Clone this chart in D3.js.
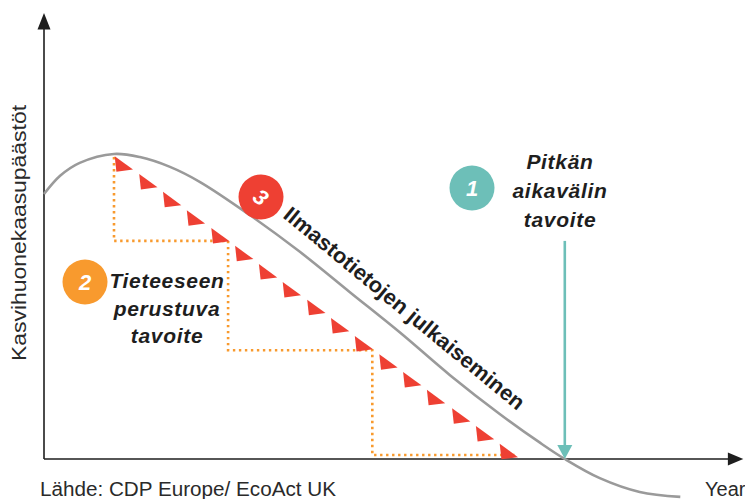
<!DOCTYPE html>
<html><head><meta charset="utf-8">
<script src="https://cdn.jsdelivr.net/npm/d3@7"></script>
<style>
html,body{margin:0;padding:0;background:#fff;}
svg{display:block;}
text{font-family:"Liberation Sans",Arial,sans-serif;}
</style></head>
<body>
<svg id="chart" width="745" height="499"></svg>
<script>
// ---- data (abstract time index 0..100, emissions index 0..100) ----
const curveTime      = [0, 2.3, 5.1, 10, 13.7, 18, 22.3, 29.4, 36.6, 43.7, 50.9, 58, 65.1, 70.9, 74.4, 79.4, 85.1, 90.9];
const curveEmissions = [59.4, 63.5, 66.4, 68.4, 67.7, 65.5, 62.1, 54.7, 46.4, 37.4, 28.3, 18.8, 10.1, 3.6, 0, -4.3, -7.4, -8.5];

const disclosureTime      = [10.1, 13.6, 17.0, 20.4, 23.9, 27.3, 30.7, 34.1, 37.6, 41.0, 44.4, 47.9, 51.3, 54.7, 58.3, 61.7, 65.1];
const disclosureEmissions = [67.9, 63.9, 59.9, 55.8, 51.8, 47.8, 43.7, 39.7, 35.7, 31.6, 27.6, 23.5, 19.5, 15.5, 11.4, 7.4, 3.4];

const stepTime      = [10, 10, 26.3, 26.3, 46.9, 46.9, 67.7];
const stepEmissions = [67.7, 48.9, 48.9, 24.4, 24.4, 0.9, 0.9];

const longTermTime = 74.4;
const longTermFrom = 48.9;

const labels = {
  yAxis: "Kasvihuonekaasupäästöt",
  xAxis: "Year",
  source: "Lähde: CDP Europe/ EcoAct UK",
  goal1: ["Pitkän", "aikavälin", "tavoite"],
  goal2: ["Tieteeseen", "perustuva", "tavoite"],
  goal3: "Ilmastotietojen julkaiseminen"
};

// ---- drawing ----
const svg = d3.select("#chart");
const x = d3.scaleLinear().domain([0, 100]).range([44, 744]);
const y = d3.scaleLinear().domain([0, 100]).range([459, 13]);

const RED = "#ee4033", TEAL = "#6dbfb8", ORANGE = "#f89a2e", GRAY = "#9a9a9a", INK = "#1e1e1e";

// axes
svg.append("line").attr("x1", x(0)).attr("y1", y(0)).attr("x2", x(0)).attr("y2", y(96.5))
  .attr("stroke", INK).attr("stroke-width", 1.6);
svg.append("path").attr("d", `M${x(0)},${y(100)} L${x(0)-6.5},${y(96.3)} L${x(0)+6.5},${y(96.3)} Z`).attr("fill", INK);
svg.append("line").attr("x1", x(0)).attr("y1", y(0)).attr("x2", x(97.8)).attr("y2", y(0))
  .attr("stroke", INK).attr("stroke-width", 1.6);
svg.append("path").attr("d", `M${x(99.9)},${y(0)} L${x(97.7)},${y(0)-6.5} L${x(97.7)},${y(0)+6.5} Z`).attr("fill", INK);

// dotted steps
const pts = stepTime.map((t, i) => [x(t), y(stepEmissions[i])]);
svg.append("path").attr("d", d3.line()(pts)).attr("fill", "none")
  .attr("stroke", ORANGE).attr("stroke-width", 2.6).attr("stroke-dasharray", "2.4,3.6");

// curve
const cpts = curveTime.map((t, i) => [x(t), y(curveEmissions[i])]);
svg.append("path").attr("d", d3.line().curve(d3.curveCatmullRom.alpha(0.5))(cpts))
  .attr("fill", "none").attr("stroke", GRAY).attr("stroke-width", 2.6);

// disclosure triangles
svg.append("g").selectAll("path").data(disclosureTime).join("path")
  .attr("d", (t, i) => {
    const px = x(t), py = y(disclosureEmissions[i]);
    return `M${px},${py} L${px+1.7},${py+15.5} L${px+18.3},${py+13.3} Z`;
  })
  .attr("fill", RED);

// long-term target arrow
svg.append("line").attr("x1", x(longTermTime)).attr("x2", x(longTermTime))
  .attr("y1", y(longTermFrom)).attr("y2", y(0) - 12)
  .attr("stroke", TEAL).attr("stroke-width", 2.6);
svg.append("path").attr("d", `M${x(longTermTime)},${y(0)} L${x(longTermTime)-7.5},${y(0)-14} L${x(longTermTime)+7.5},${y(0)-14} Z`)
  .attr("fill", TEAL);

// badges
function badge(cx, cy, color, num, rot) {
  svg.append("circle").attr("cx", cx).attr("cy", cy).attr("r", 22.5).attr("fill", color);
  svg.append("text").attr("x", 0).attr("y", 0)
    .attr("transform", `translate(${cx},${cy}) rotate(${rot})`)
    .attr("text-anchor", "middle").attr("dy", "0.36em")
    .attr("fill", "#fff").attr("font-weight", "bold").attr("font-style", "italic")
    .attr("font-size", 22).text(num);
}
badge(472, 188, TEAL, "1", 0);
badge(85, 282, ORANGE, "2", 0);
badge(261, 197, RED, "3", 39);

// multi-line labels
function multiline(cx, y0, lines, gap) {
  const t = svg.append("text").attr("text-anchor", "middle")
    .attr("font-weight", "bold").attr("font-style", "italic").attr("font-size", 21)
    .attr("letter-spacing", 0.7).attr("fill", INK);
  lines.forEach((l, i) => t.append("tspan").attr("x", cx).attr("y", y0 + i * gap).text(l));
}
multiline(560, 169, labels.goal1, 29);
multiline(167, 288, labels.goal2, 27.5);

// rotated disclosure label
svg.append("text").attr("transform", "translate(282,217) rotate(39.5)")
  .attr("font-weight", "bold").attr("font-size", 21.5).attr("fill", INK)
  .attr("textLength", 305).attr("lengthAdjust", "spacingAndGlyphs")
  .text(labels.goal3);

// axis titles
const LIGHT = "Roboto, 'Liberation Sans', sans-serif";
svg.append("text").attr("transform", "translate(26,233) rotate(-90)")
  .attr("text-anchor", "middle").attr("font-size", 20.5).attr("fill", "#2a2a2a")
  .attr("font-family", LIGHT).attr("font-weight", 300)
  .attr("textLength", 256).attr("lengthAdjust", "spacingAndGlyphs")
  .text(labels.yAxis);
svg.append("text").attr("x", 705).attr("y", 496).attr("font-size", 20).attr("fill", "#2a2a2a")
  .attr("font-family", LIGHT).attr("font-weight", 300)
  .text(labels.xAxis);
svg.append("text").attr("x", 40).attr("y", 496).attr("font-size", 20).attr("fill", "#2a2a2a")
  .attr("font-family", LIGHT).attr("font-weight", 300)
  .attr("textLength", 296).attr("lengthAdjust", "spacingAndGlyphs")
  .text(labels.source);
</script>
</body></html>
